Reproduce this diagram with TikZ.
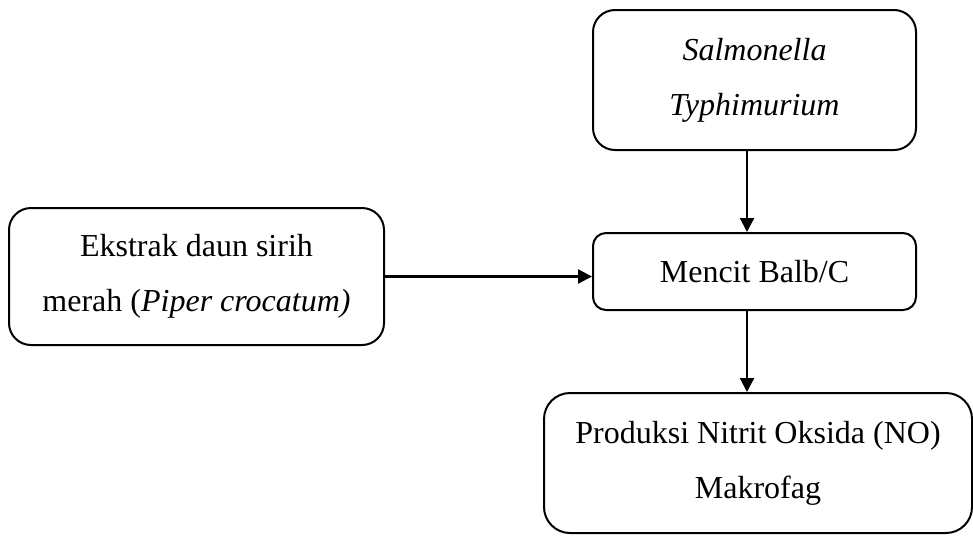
\documentclass[tikz,border=0pt]{standalone}
\usepackage{fontspec}
\setmainfont{Liberation Serif}
\usetikzlibrary{arrows.meta, positioning, calc}

\begin{document}
\begin{tikzpicture}[x=1pt,y=-1pt,
        box/.style={rectangle,draw=black,line width=2pt,rounded corners=22pt,
                    align=center,inner sep=0pt,
                    font=\fontsize{32}{37}\selectfont},
        flow/.style={draw=black,line width=2.2pt,
                     -{Triangle[length=14pt,width=14pt]}}
      ]
        \useasboundingbox (0,0) rectangle (973,536);
        \node[box,minimum width=323pt,minimum height=140pt] (salmonella) at (754.5,80)
          {\textit{Salmonella}\\[18pt]\textit{Typhimurium}};
        \node[box,rounded corners=13pt,minimum width=323pt,minimum height=77pt] (mencit) at (754.5,271.5)
          {Mencit Balb/C};
        \node[box,minimum width=375pt,minimum height=137pt] (ekstrak) at (196.5,276.5)
          {Ekstrak daun sirih\\[18pt]merah (\textit{Piper crocatum)}};
        \node[box,rounded corners=26pt,minimum width=428pt,minimum height=140pt] (produksi) at (758,463)
          {Produksi Nitrit Oksida (NO)\\[18pt]Makrofag};
        % connectors
        \draw[flow] ([xshift=-7.5pt]salmonella.south) -- ([xshift=-7.5pt]mencit.north);
        \draw[flow] (ekstrak.east) -- (ekstrak.east -| mencit.west);
        \draw[flow] ([xshift=-7.5pt]mencit.south) -- ([xshift=-7.5pt]mencit.south |- produksi.north);
      \end{tikzpicture}
\end{document}
